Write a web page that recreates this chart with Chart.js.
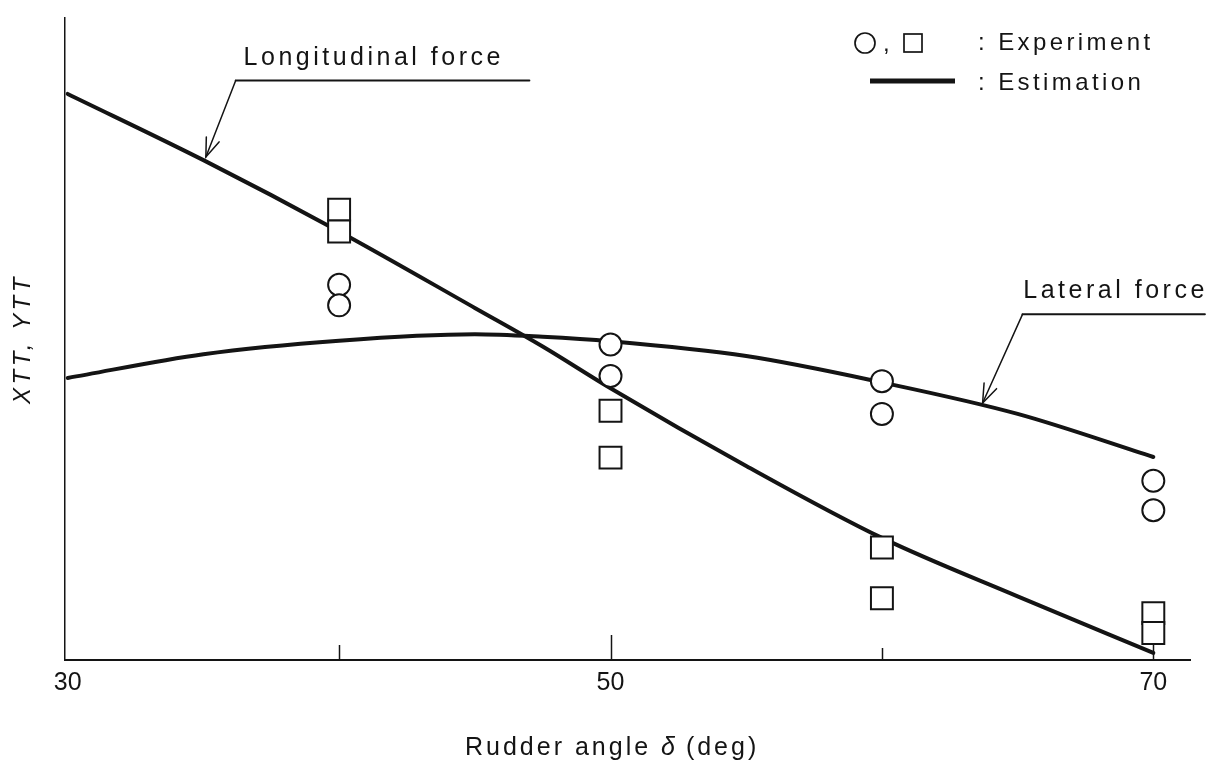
<!DOCTYPE html>
<html>
<head>
<meta charset="utf-8">
<title>Rudder angle vs XTT, YTT</title>
<script src="https://cdn.jsdelivr.net/npm/chart.js@4.4.1/dist/chart.umd.min.js"></script>
<style>
    html, body { margin: 0; padding: 0; background: #fff; }
    #chart { display: block; }
</style>
</head>
<body>
<canvas id="chart" width="1208" height="763"></canvas>
<script>
// Rudder angle (deg) used for the estimation curves
const estAngles = [30, 35, 40, 45, 47.5, 50, 55, 60, 65, 70];
// Estimated forces (arbitrary units, no y ticks in the original)
const longEstimate = [88.1, 77.8, 66.7, 54.8, 48.8, 42.3, 30.2, 19.0, 9.9, 1.1];
const latEstimate = [43.9, 47.6, 49.7, 50.7, 50.3, 49.6, 47.3, 43.2, 38.3, 31.6];

// Experiment points
const expAngles = [40, 40, 50, 50, 60, 60, 70, 70];
const latExperiment = [58.4, 55.2, 49.1, 44.2, 43.4, 38.3, 27.9, 23.3];
const longExperiment = [70.1, 66.7, 38.8, 31.5, 17.5, 9.6, 7.3, 4.2];

// X axis ticks
const xTickValues = [30, 40, 50, 60, 70];
const xTickLabels = ["30", "", "50", "", "70"];

const INK = "#141414";
const FONT = "'Liberation Sans', Arial, Helvetica, sans-serif";

const toPoints = (xs, ys) => xs.map((x, i) => ({ x: x, y: ys[i] }));

// Short tick marks pointing up into the plot
const tickMarks = {
    id: "tickMarks",
    beforeDatasetsDraw(chart) {
        const { ctx, scales: { x }, chartArea } = chart;
        const lengths = { 40: 15, 50: 25, 60: 12, 70: 16 };
        ctx.save();
        ctx.strokeStyle = INK;
        ctx.lineWidth = 1.5;
        Object.keys(lengths).forEach((v) => {
            const px = Math.round(x.getPixelForValue(Number(v))) + 0.5;
            ctx.beginPath();
            ctx.moveTo(px, chartArea.bottom);
            ctx.lineTo(px, chartArea.bottom - lengths[v]);
            ctx.stroke();
        });
        ctx.restore();
    }
};

// Leader lines, labels, legend box and axis titles
const annotate = {
    id: "annotate",
    afterDraw(chart) {
        const { ctx, scales: { x, y } } = chart;
        const px = (v) => x.getPixelForValue(v);
        const py = (v) => y.getPixelForValue(v);

        ctx.save();
        ctx.strokeStyle = INK;
        ctx.fillStyle = INK;
        ctx.lineCap = "round";

        const leaders = [
            { text: "Longitudinal force", tip: [35.09, 78.3], knee: [36.19, 90.2], end: [47.01, 90.2], label: [36.48, 92.6] },
            { text: "Lateral force", tip: [63.71, 40.0], knee: [65.18, 53.8], end: [71.9, 53.8], label: [65.21, 56.3] }
        ];

        leaders.forEach((l) => {
            const tx = px(l.tip[0]), ty = py(l.tip[1]);
            const kx = px(l.knee[0]), ky = py(l.knee[1]);

            ctx.lineWidth = 2;
            ctx.beginPath();
            ctx.moveTo(kx, ky);
            ctx.lineTo(px(l.end[0]), py(l.end[1]));
            ctx.stroke();

            ctx.lineWidth = 1.5;
            ctx.beginPath();
            ctx.moveTo(kx, ky);
            ctx.lineTo(tx, ty);
            ctx.stroke();

            // open arrow head
            const ang = Math.atan2(ky - ty, kx - tx);
            const spread = 20 * Math.PI / 180;
            ctx.beginPath();
            ctx.moveTo(tx + 20 * Math.cos(ang - spread), ty + 20 * Math.sin(ang - spread));
            ctx.lineTo(tx, ty);
            ctx.lineTo(tx + 20 * Math.cos(ang + spread), ty + 20 * Math.sin(ang + spread));
            ctx.stroke();

            ctx.font = `25px ${FONT}`;
            ctx.letterSpacing = "3.5px";
            ctx.textBaseline = "alphabetic";
            ctx.textAlign = "left";
            ctx.fillText(l.text, px(l.label[0]), py(l.label[1]));
        });

        // Legend
        ctx.lineWidth = 1.7;
        ctx.beginPath();
        ctx.arc(865, 43, 10, 0, Math.PI * 2);
        ctx.stroke();
        ctx.strokeRect(904, 34, 18, 18);
        ctx.font = `24px ${FONT}`;
        ctx.letterSpacing = "0px";
        ctx.fillText(",", 883, 51);

        ctx.lineWidth = 5;
        ctx.lineCap = "butt";
        ctx.beginPath();
        ctx.moveTo(870, 81);
        ctx.lineTo(955, 81);
        ctx.stroke();

        ctx.font = `24px ${FONT}`;
        ctx.letterSpacing = "3.4px";
        ctx.fillText(": Experiment", 978, 50);
        ctx.fillText(": Estimation", 978, 90);

        // X title
        ctx.font = `25px ${FONT}`;
        ctx.letterSpacing = "3px";
        let cx = 465;
        ctx.fillText("Rudder angle ", cx, 755);
        cx += ctx.measureText("Rudder angle ").width;
        ctx.font = `italic 25px ${FONT}`;
        ctx.letterSpacing = "1px";
        ctx.fillText("\u03B4", cx, 755);
        cx += ctx.measureText("\u03B4").width;
        ctx.font = `25px ${FONT}`;
        ctx.letterSpacing = "3px";
        ctx.fillText(" (deg)", cx, 755);

        // Y title
        ctx.translate(23, 339);
        ctx.rotate(-Math.PI / 2);
        ctx.font = `italic 24px ${FONT}`;
        ctx.letterSpacing = "3.5px";
        ctx.textAlign = "center";
        ctx.textBaseline = "middle";
        ctx.fillText("XTT, YTT", 0, 0);

        ctx.restore();
    }
};

new Chart(document.getElementById("chart"), {
    type: "scatter",
    data: {
        datasets: [
            {
                label: "Lateral force (experiment)",
                data: toPoints(expAngles, latExperiment),
                pointStyle: "circle",
                pointRadius: 11,
                pointBorderWidth: 2,
                pointBorderColor: INK,
                pointBackgroundColor: "#fff",
                order: 0
            },
            {
                label: "Longitudinal force (experiment)",
                data: toPoints(expAngles, longExperiment),
                pointStyle: "rect",
                pointRadius: 15.5,
                pointBorderWidth: 2,
                pointBorderColor: INK,
                pointBackgroundColor: "#fff",
                order: 0
            },
            {
                label: "Longitudinal force",
                data: toPoints(estAngles, longEstimate),
                showLine: true,
                borderColor: INK,
                borderWidth: 4,
                borderCapStyle: "round",
                cubicInterpolationMode: "monotone",
                pointRadius: 0,
                order: 1
            },
            {
                label: "Lateral force",
                data: toPoints(estAngles, latEstimate),
                showLine: true,
                borderColor: INK,
                borderWidth: 4,
                borderCapStyle: "round",
                cubicInterpolationMode: "monotone",
                pointRadius: 0,
                order: 1
            }
        ]
    },
    options: {
        responsive: false,
        animation: false,
        layout: {
            padding: { left: 65, right: 13, top: 15, bottom: 57 }
        },
        scales: {
            x: {
                type: "linear",
                min: 29.9,
                max: 71.37,
                afterBuildTicks: (scale) => {
                    scale.ticks = xTickValues.map((v) => ({ value: v }));
                },
                grid: { display: false, drawTicks: false },
                border: { display: true, color: INK, width: 2 },
                ticks: {
                    padding: 8,
                    color: INK,
                    font: { family: FONT, size: 25 },
                    maxRotation: 0,
                    autoSkip: false,
                    callback: (value) => {
                        const i = xTickValues.indexOf(value);
                        return i >= 0 ? xTickLabels[i] : "";
                    }
                }
            },
            y: {
                type: "linear",
                min: 0,
                max: 100,
                grid: { display: false, drawTicks: false },
                border: { display: true, color: INK, width: 1.5 },
                ticks: { display: false }
            }
        },
        plugins: {
            legend: { display: false },
            tooltip: { enabled: false }
        }
    },
    plugins: [tickMarks, annotate]
});
</script>
</body>
</html>
